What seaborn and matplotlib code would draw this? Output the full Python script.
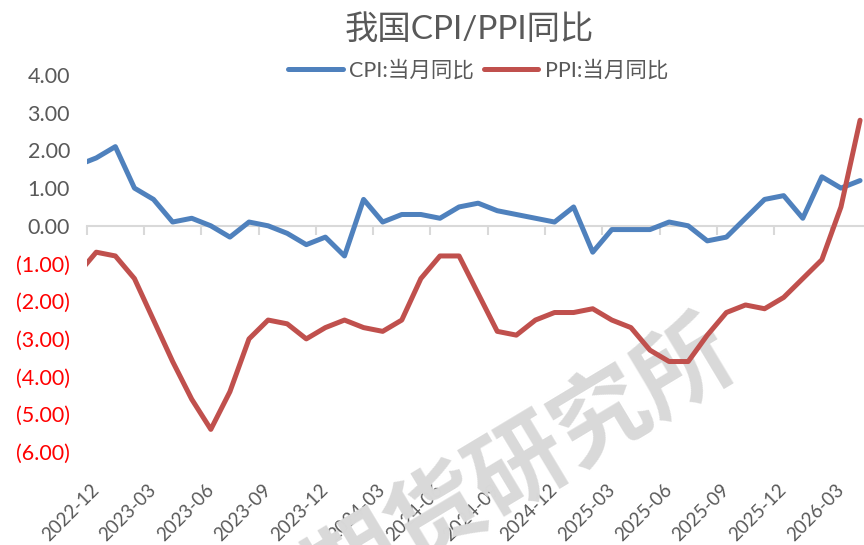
import matplotlib
matplotlib.use("Agg")
import matplotlib.pyplot as plt
import numpy as np
import pandas as pd
import seaborn as sns

# ---------------- data ----------------
months = [str(p) for p in pd.period_range("2022-11", "2026-04", freq="M")]
cpi = [1.6, 1.8,
       2.1, 1.0, 0.7, 0.1, 0.2, 0.0, -0.3, 0.1, 0.0, -0.2, -0.5, -0.3,
       -0.8, 0.7, 0.1, 0.3, 0.3, 0.2, 0.5, 0.6, 0.4, 0.3, 0.2, 0.1,
       0.5, -0.7, -0.1, -0.1, -0.1, 0.1, 0.0, -0.4, -0.3, 0.2, 0.7, 0.8,
       0.2, 1.3, 1.0, 1.2]
ppi = [-1.3, -0.7,
       -0.8, -1.4, -2.5, -3.6, -4.6, -5.4, -4.4, -3.0, -2.5, -2.6, -3.0, -2.7,
       -2.5, -2.7, -2.8, -2.5, -1.4, -0.8, -0.8, -1.8, -2.8, -2.9, -2.5, -2.3,
       -2.3, -2.2, -2.5, -2.7, -3.3, -3.6, -3.6, -2.9, -2.3, -2.1, -2.2, -1.9,
       -1.4, -0.9, 0.5, 2.8]
series_names = ["CPI:当月同比", "PPI:当月同比"]
title = "我国CPI/PPI同比"
watermark = "期货研究所"
y_ticks = [4, 3, 2, 1, 0, -1, -2, -3, -4, -5, -6]
label_every = 3
tick_labels = months[1::label_every]

# ---------------- style ----------------
sns.set_theme(style="white")
plt.rcParams["font.family"] = ["Lato", "Noto Sans CJK SC", "DejaVu Sans"]
GRAY = "#595959"
LIGHT = "#D9D9D9"
BLUE = "#4F81BD"
RED = "#C0504D"

W, H = 864, 545
fig = plt.figure(figsize=(W / 100, H / 100), dpi=100)
left_px, right_px, top_px, bot_px = 86.7, 869.6, 75, 452
ax = fig.add_axes([left_px / W, 1 - bot_px / H, (right_px - left_px) / W, (bot_px - top_px) / H])

df = pd.DataFrame({"idx": np.arange(len(months)), "month": months, "CPI": cpi, "PPI": ppi})
for col, color, name in [("CPI", BLUE, series_names[0]), ("PPI", RED, series_names[1])]:
    sns.lineplot(data=df, x="idx", y=col, ax=ax, color=color, linewidth=3.6,
                 label=name, legend=False, zorder=4,
                 solid_joinstyle="round", solid_capstyle="round")

ax.set_xlim(0.5, len(months) - 0.5)
ax.set_ylim(min(y_ticks), max(y_ticks))
ax.set_xlabel("")
ax.set_ylabel("")
for s in ax.spines.values():
    s.set_visible(False)

# y tick labels
ax.set_yticks(y_ticks)
ax.set_yticklabels([f"{v:.2f}" if v >= 0 else f"({abs(v):.2f})" for v in y_ticks])
ax.tick_params(axis="y", length=0, pad=12, labelsize=15.5)
for v, lab in zip(y_ticks, ax.get_yticklabels()):
    lab.set_color("#FF0000" if v < 0 else GRAY)

# x tick labels (category centres)
label_pos = [months.index(m) for m in tick_labels]
ax.set_xticks(label_pos)
ax.set_xticklabels(tick_labels)
ax.tick_params(axis="x", length=0, pad=25, labelsize=13.5, labelcolor=GRAY)
for lab in ax.get_xticklabels():
    lab.set_rotation(45)
    lab.set_ha("right")
    lab.set_va("center")
    lab.set_rotation_mode("anchor")

# horizontal axis line at zero with tick marks between categories
sec = ax.secondary_xaxis(0, transform=ax.transData)
sec.set_xticks(np.arange(0.5, len(months) - 1, label_every))
sec.tick_params(axis="x", length=6.5, width=1.5, color=LIGHT, direction="out",
                labelbottom=False)
sec.spines["bottom"].set_color(LIGHT)
sec.spines["bottom"].set_linewidth(1.5)
sec.set_zorder(1)

# title
fig.text(469 / W, 1 - 29 / H, title, ha="center", va="center", fontsize=24, color=GRAY,
         family=["Lato", "Noto Sans CJK SC"])

# legend
handles = ax.get_lines()[:2]
leg = fig.legend(handles, series_names, loc="center", bbox_to_anchor=(478 / W, 1 - 70 / H),
                 ncol=2, frameon=False, handlelength=2.55, handletextpad=0.3,
                 columnspacing=0.45, prop={"family": ["Lato", "Noto Sans CJK SC"], "size": 15.5})
for t in leg.get_texts():
    t.set_color(GRAY)

# watermark
ax.text(521 / W, 1 - 468 / H, watermark, transform=fig.transFigure, rotation=31,
        ha="center", va="center", fontsize=69, fontweight="bold",
        family="Noto Sans CJK SC", color=LIGHT, zorder=3, clip_on=False)

fig.savefig("out.png", dpi=100)
